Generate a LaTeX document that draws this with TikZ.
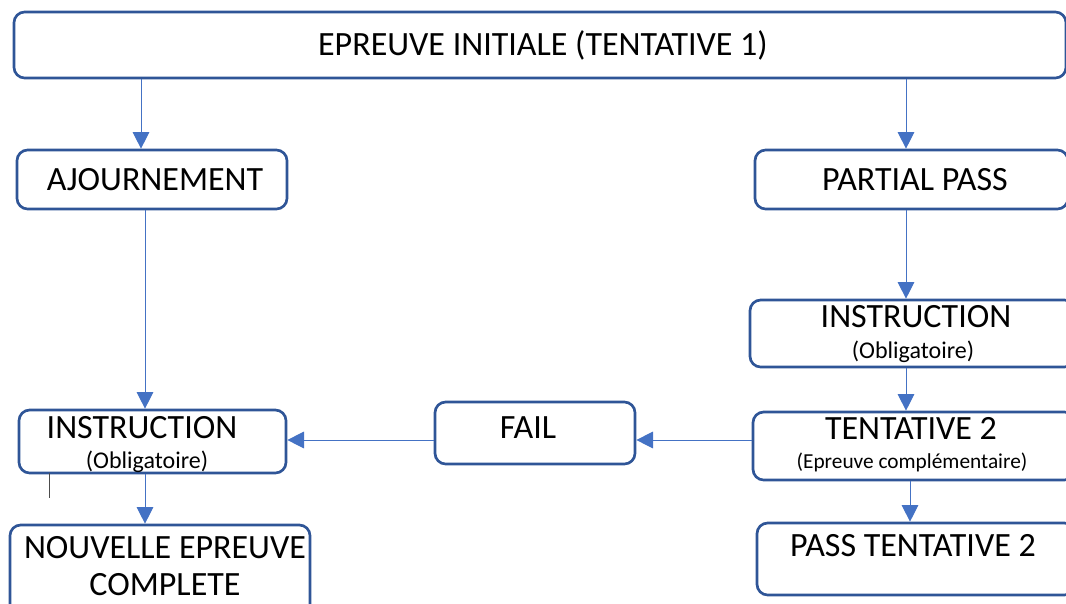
\documentclass[tikz,border=0pt]{standalone}
\usepackage{fontspec}
\setmainfont{Carlito}
\usetikzlibrary{arrows.meta}

\definecolor{boxblue}{RGB}{47,85,151}
\definecolor{arrowblue}{RGB}{68,114,196}

\tikzset{every picture/.style={line width=0.75pt}}
\tikzset{
  stepbox/.style={draw=boxblue, line width=2pt, rounded corners=8pt, fill=white, inner sep=0pt},
  bigtext/.style={anchor=center, inner sep=0.75pt, font=\fontsize{25.5}{30}\selectfont},
  smalltext/.style={anchor=center, inner sep=0.75pt, font=\fontsize{18}{21}\selectfont},
  flow/.style={draw=arrowblue, line width=0.75pt, -{Triangle[length=12.5pt, width=12.5pt]}, color=arrowblue}
}

\begin{document}
\begin{tikzpicture}[x=0.75pt,y=0.75pt,yscale=-1,xscale=1]
\useasboundingbox (0,0) rectangle (1066,603);

% Boxes
\node [stepbox, minimum width=789pt, minimum height=49.5pt] (initiale) at (540,45) {};
\node [stepbox, minimum width=202.5pt, minimum height=44.25pt] (ajourn) at (152,179.5) {};
\node [stepbox, minimum width=234.75pt, minimum height=44.25pt] (partial) at (911.5,179.5) {};
\node [stepbox, minimum width=243.75pt, minimum height=50.25pt] (instrR) at (912.5,333.5) {};
\node [stepbox, minimum width=241.5pt, minimum height=51pt] (tent2) at (914,446) {};
\node [stepbox, minimum width=238.5pt, minimum height=54pt] (pass2) at (916,559) {};
\node [stepbox, minimum width=150pt, minimum height=46.5pt] (fail) at (535,433) {};
\node [stepbox, minimum width=200.25pt, minimum height=47.25pt] (instrL) at (152.5,441.5) {};
\node [stepbox, minimum width=225pt, minimum height=67.5pt] (nouvelle) at (160,570) {};

% Text Node
\node [bigtext] (initiale-t) at (543,45) {EPREUVE INITIALE (TENTATIVE 1)};
\node [bigtext] (ajourn-t) at (155,180) {AJOURNEMENT};
\node [bigtext] (partial-t) at (915,180) {PARTIAL PASS};
\node [bigtext] (instrR-t) at (916,317) {INSTRUCTION};
\node [smalltext] (instrR-s) at (913,352) {(Obligatoire)};
\node [bigtext] (tent2-t) at (911,428) {TENTATIVE 2};
\node [smalltext, font=\fontsize{16}{19}\selectfont] (tent2-s) at (912,462) {(Epreuve complémentaire)};
\node [bigtext] (pass2-t) at (913,546) {PASS TENTATIVE 2};
\node [bigtext] (fail-t) at (528,428) {FAIL};
\node [bigtext] (instrL-t) at (142,428) {INSTRUCTION};
\node [smalltext] (instrL-s) at (147,462) {(Obligatoire)};
\node [bigtext] (nouvelle-t1) at (165,548) {NOUVELLE EPREUVE};
\node [bigtext] (nouvelle-t2) at (165,585) {COMPLETE};

% Connector columns
\coordinate (colA) at (141,0);
\coordinate (colB) at (145,0);
\coordinate (colC) at (906,0);
\coordinate (colD) at (910,0);
\coordinate (rowF) at (0,440);

% Straight Lines
\draw [flow] (initiale.south -| colA) -- (ajourn.north -| colA);
\draw [flow] (initiale.south -| colC) -- (partial.north -| colC);
\draw [flow] (ajourn.south -| colB) -- (instrL.north -| colB);
\draw [flow] (partial.south -| colC) -- (instrR.north -| colC);
\draw [flow] (instrR.south -| colC) -- (tent2.north -| colC);
\draw [flow] (tent2.south -| colD) -- (pass2.north -| colD);
\draw [flow] (tent2.west |- rowF) -- (fail.east |- rowF);
\draw [flow] (fail.west |- rowF) -- (instrL.east |- rowF);
\draw [flow] (instrL.south -| colB) -- (nouvelle.north -| colB);

% Straight Lines
\draw [color=black!70] (49,473) -- (49,498);

\end{tikzpicture}
\end{document}
